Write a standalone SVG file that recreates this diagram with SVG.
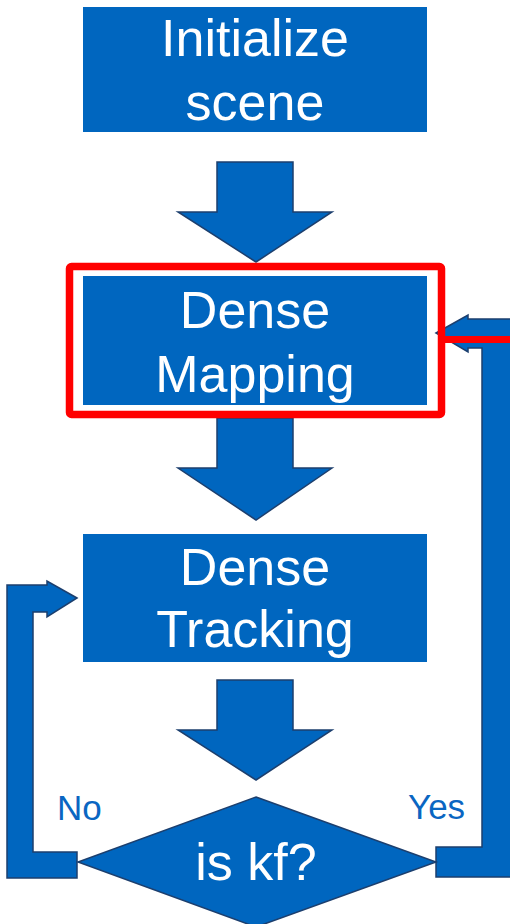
<svg xmlns="http://www.w3.org/2000/svg" width="510" height="924" viewBox="0 0 510 924">
<style>
.box{fill:#0066bf}
.arrow{fill:#0066bf;stroke:#1c3f6e;stroke-width:1.5;stroke-linejoin:miter}
.t{font-family:"Liberation Sans",Arial,sans-serif;font-size:52px;fill:#ffffff;text-anchor:middle}
.lbl{font-family:"Liberation Sans",Arial,sans-serif;font-size:35px;fill:#0a66c2}
</style>
<rect width="510" height="924" fill="#ffffff"/>
<g id="connectors">
<path class="arrow" d="M217,162 L293,162 L293,212 L332,212 L256,262 L178,212 L217,212 Z"/>
<path class="arrow" d="M217,418 L293,418 L293,468 L332,468 L256,520 L178,468 L217,468 Z"/>
<path class="arrow" d="M217,680 L293,680 L293,730 L332,730 L256,780 L178,730 L217,730 Z"/>
<path class="arrow" d="M77,598 L47,581 L47,585 L7,585 L7,878 L77,878 L77,852 L33,852 L33,612 L47,612 L47,617 Z"/>
<path class="arrow" d="M436,333 L468,315 L468,319 L515,319 L515,877 L436,877 L436,847 L482,847 L482,348 L468,348 L468,352 Z"/>
<text class="lbl" x="57" y="820">No</text>
<text class="lbl" x="408" y="819">Yes</text>
</g>
<g id="init">
<rect class="box" x="83" y="7" width="344" height="125"/>
<text class="t" x="255" y="56">Initialize</text>
<text class="t" x="255" y="120">scene</text>
</g>
<g id="mapping">
<rect class="box" x="83" y="276" width="344" height="129"/>
<text class="t" x="255" y="328">Dense</text>
<text class="t" x="255" y="392">Mapping</text>
</g>
<g id="highlight">
<rect x="69.5" y="266.5" width="372" height="148" rx="2" fill="none" stroke="#ff0000" stroke-width="7.5"/>
<line x1="441" y1="339.5" x2="512" y2="339.5" stroke="#ff0000" stroke-width="7"/>
</g>
<g id="tracking">
<rect class="box" x="83" y="534" width="344" height="128"/>
<text class="t" x="255" y="585">Dense</text>
<text class="t" x="255" y="647">Tracking</text>
</g>
<g id="iskf">
<path class="arrow" d="M256,797 L436,862 L256,927 L78,862 Z"/>
<text class="t" x="256" y="880">is kf?</text>
</g>
</svg>
